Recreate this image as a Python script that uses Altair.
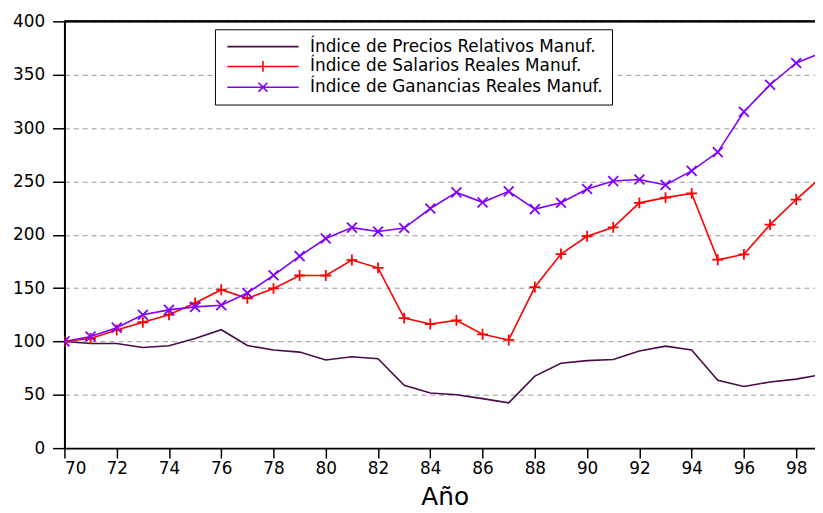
import altair as alt
import pandas as pd

years = list(range(70, 100))
series_names = [
    "Índice de Precios Relativos Manuf.",
    "Índice de Salarios Reales Manuf.",
    "Índice de Ganancias Reales Manuf.",
]
precios = [100, 98, 98, 94.4, 96, 102.7, 111, 96.2, 91.9, 90, 82.6, 85.7, 83.8, 59, 51.7,
           50, 46.4, 42.4, 67.5, 79.5, 82, 83, 91, 95.6, 92, 63.7, 57.8, 62, 64.7, 69]
salarios = [100, 102.7, 110.7, 118, 125, 136, 148.5, 140.4, 149.7, 161.8, 161.8, 176.3, 169,
            121.9, 116.3, 119.7, 106.7, 101.4, 151, 181.9, 198.6, 207, 229.9, 234.8, 238.8,
            176.6, 181.6, 209.5, 233, 255]
ganancias = [100, 104.6, 112.9, 125, 129.6, 132.4, 134, 145.4, 162, 180, 196.5, 206.7, 203,
             206.3, 224.6, 239.7, 230.4, 240.7, 224, 230, 242.9, 250.3, 251.8, 246.6, 259.9,
             277.5, 315.3, 340.6, 361, 371]
colors = ["#4a0c48", "#ff0000", "#8000ff"]
y_ticks = [0, 50, 100, 150, 200, 250, 300, 350, 400]

rows = []
for name, vals in zip(series_names, [precios, salarios, ganancias]):
    for yr, v in zip(years, vals):
        rows.append({"year": yr, "value": v, "serie": name})
df = pd.DataFrame(rows)
legend_df = pd.DataFrame({"serie": series_names})

plus_path = "M-1,0H1M0,-1V1"
cross_path = "M-1,-1L1,1M-1,1L1,-1"
leg_paths = [
    "M-7.2,0H7.2",
    "M-7.2,0H7.2M0,-1.1V1.1",
    "M-7.2,0H7.2M-0.9,-0.9L0.9,0.9M-0.9,0.9L0.9,-0.9",
]

xscale = alt.Scale(domain=[70, 98.72], nice=False, zero=False)
yscale = alt.Scale(domain=[0, 400], nice=False)
cscale = alt.Scale(domain=series_names, range=colors)
leg = alt.Legend(title=None, orient="none", legendX=152, legendY=8)

x_enc = alt.X("year:Q", scale=xscale,
              axis=alt.Axis(title="Año", values=years[:-1],
                            labelExpr="datum.value % 2 == 0 ? datum.label : ''",
                            grid=False, tickSize=10, labelPadding=3,
                            titleFontSize=25, titlePadding=8, titleFontWeight="normal",
                            titleX=384, titleAlign="center"))
y_enc = alt.Y("value:Q", scale=yscale,
              axis=alt.Axis(title=None, values=y_ticks, tickSize=12, labelPadding=8,
                            grid=True, gridDash=[5, 4], gridColor="#999999", gridWidth=1))

lines = alt.Chart(df).mark_line(strokeWidth=1.6, clip=True).encode(
    x=x_enc, y=y_enc,
    color=alt.Color("serie:N", scale=cscale, legend=leg),
)

plus_pts = alt.Chart(df).transform_filter(
    alt.datum.serie == series_names[1]
).mark_point(shape=plus_path, size=121, filled=False, strokeWidth=1.8,
             color=colors[1], opacity=1, clip=True).encode(x="year:Q", y="value:Q")

cross_pts = alt.Chart(df).transform_filter(
    alt.datum.serie == series_names[2]
).mark_point(shape=cross_path, size=100, filled=False, strokeWidth=1.8,
             color=colors[2], opacity=1, clip=True).encode(x="year:Q", y="value:Q")

legend_layer = alt.Chart(legend_df).mark_point(filled=False, opacity=1, clip=True).encode(
    x=alt.value(-2000), y=alt.value(-2000),
    color=alt.Color("serie:N", scale=cscale, legend=leg),
    shape=alt.Shape("serie:N", scale=alt.Scale(domain=series_names, range=leg_paths),
                    legend=leg),
)

top_rule = alt.Chart(legend_df).mark_rule(color="black", strokeWidth=2).encode(
    y=alt.datum(400)
)

chart = alt.layer(lines, plus_pts, cross_pts, legend_layer, top_rule).properties(
    width=758, height=431,
    autosize=alt.AutoSizeParams(type="none"),
    padding={"left": 57, "top": 11, "right": 0, "bottom": 62},
).configure_view(stroke="transparent").configure_axis(
    domainColor="black", domainWidth=2, tickColor="black", tickWidth=1.5,
    labelColor="black", labelFont="DejaVu Sans", labelFontSize=17,
    titleFont="DejaVu Sans", titleColor="black",
).configure_legend(
    labelFont="DejaVu Sans", labelFontSize=17, labelColor="black",
    symbolSize=100, symbolStrokeWidth=1.6, symbolOffset=31, labelOffset=39,
    padding=9, rowPadding=2, strokeColor="black", fillColor="white",
    labelLimit=0,
)

chart.save("out.html", embed_options={"renderer": "svg", "actions": False})
